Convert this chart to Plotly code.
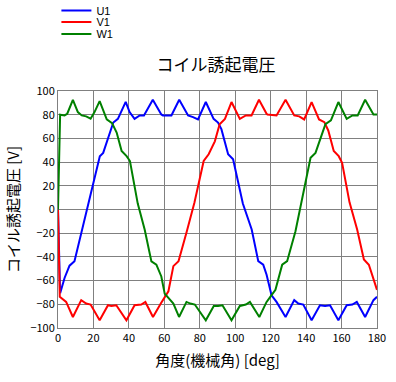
import plotly.graph_objects as go

# --- data ---
u1_x = [0, 1.2, 3.7, 6.5, 9.3, 13.1, 17.5, 20.8, 23.6, 25.5, 28.3, 31.2, 33.8, 38.2, 40.4, 43.2, 46.1, 48.5,
        53.5, 58.3, 59.2, 64, 68.4, 73.4, 76.2, 79, 83.4, 87.8, 90.3, 92.2, 96, 98.8, 104.3, 109.3, 113, 115.8,
        117.7, 120.5, 123.3, 128.4, 133.3, 135.6, 138.4, 143.1, 147.8, 150.7, 153.5, 158.2, 162.9, 166.1,
        168.6, 173.3, 178, 180]
u1_y = [0, -70.6, -57.8, -47.4, -43.6, -19.7, 6, 26.8, 45, 47.8, 60.5, 73.4, 76.5, 90.8, 82.2, 76.5, 79.4, 79.4,
        92.6, 80.2, 79.4, 79.4, 92.6, 79.4, 78, 76, 90.7, 76.5, 73.4, 67.8, 46.6, 42.4, 5, -16.9, -43.6, -46.6,
        -55, -72.5, -78, -90.7, -76.5, -79.4, -80.2, -93.5, -80.8, -81.4, -80.8, -93.5, -80.8, -80.2,
        -78, -90.7, -76.5, -73.7]

v1_x = [0, 1, 4.6, 8.4, 13.1, 15.9, 18.4, 23.5, 28.2, 30.1, 32.9, 38.6, 43.2, 47, 49.3, 53.6, 58, 60.5, 62.3,
        65.1, 68, 72.7, 77, 82.2, 85, 88.5, 91.2, 94.2, 97.9, 102.6, 106, 109.2, 113.4, 117.7, 118.2, 123.3,
        128.4, 133.3, 136.1, 138.9, 143.1, 147.3, 150.3, 152.5, 155.6, 158.4, 160.3, 164.5, 168.8, 172.6,
        175.4, 180]
v1_y = [0, -73.7, -78, -90.7, -76.5, -79.4, -80.2, -93.5, -80.8, -81.4, -80.8, -93.5, -80.8, -80.2, -78, -90.7,
        -79.4, -73, -69, -47.8, -43.6, -18.3, 6, 40.9, 46.6, 57.5, 72, 76.5, 90.7, 76.5, 79.4, 79.4, 92.6, 80.8,
        80.2, 79.4, 92.6, 79.4, 78.6, 76, 90.7, 76, 73.7, 66.7, 49.4, 45, 39.4, 6, -16.9, -42.2, -46.6, -67.8]

w1_x = [0, 1.2, 3.7, 5.2, 8.4, 11.2, 13.4, 15.9, 18.4, 20.6, 23.5, 27.5, 30.5, 33.1, 35.9, 38.7, 40.6, 45,
        48.9, 52.7, 55.5, 58.3, 60.2, 62.8, 65.1, 68.3, 72.5, 74.7, 77.2, 83.4, 87.9, 90.3, 92.8, 97.9, 102.6,
        106, 108.3, 113.6, 117.7, 119.9, 122.7, 126.5, 129.3, 134, 137.3, 142.5, 145.3, 148.1, 150.9, 154,
        158.2, 162.9, 166.1, 169.1, 173.3, 178, 180]
w1_y = [0, 80, 79.4, 80.8, 92.6, 82.2, 79.4, 78.6, 76.6, 82.2, 91.5, 76, 72.9, 64.9, 49.4, 45, 40.9, 5,
        -16.9, -43.8, -46.6, -56.5, -71, -75, -79.4, -90.7, -78, -79.4, -80.2, -93.5, -81.4, -81.4, -80.8,
        -93.5, -81.4, -80.2, -78, -90.7, -78, -73.5, -67.8, -46.6, -43.6, -18.3, 6, 43.6, 47.8, 60.5, 72,
        75.2, 90.7, 76.5, 79.4, 79.4, 92.6, 80.2, 80.2]

series_names = ["U1", "V1", "W1"]
series_colors = ["#0000FF", "#FF0000", "#008000"]

x_ticks = [0, 20, 40, 60, 80, 100, 120, 140, 160, 180]
y_ticks = [-100, -80, -60, -40, -20, 0, 20, 40, 60, 80, 100]

title_text = "コイル誘起電圧"
x_title = "角度(機械角) [deg]"
y_title = "コイル誘起電圧 [V]"

FONT = "Noto Sans CJK JP"
LEG_FONT = "Liberation Sans"
W, H = 396, 382
ML, MR, MT, MB = 58, 19, 91, 54
PH = H - MT - MB

fig = go.Figure()
data = [(u1_x, u1_y), (v1_x, v1_y), (w1_x, w1_y)]
legend_ids = ["legend", "legend2", "legend3"]
for (xs, ys), name, col, lg in zip(data, series_names, series_colors, legend_ids):
    fig.add_trace(go.Scatter(x=xs, y=ys, mode="lines", name=name,
                             line=dict(color=col, width=2), legend=lg))


def leg(py):
    return dict(font=dict(family=LEG_FONT, size=11, color="black"), bgcolor="rgba(0,0,0,0)",
                borderwidth=0, xanchor="left", yanchor="middle", x=-0.005,
                y=1 + (MT - py) / PH, itemwidth=30, tracegroupgap=0, visible=True)


fig.update_layout(
    width=W, height=H, showlegend=True,
    margin=dict(l=ML, r=MR, t=MT, b=MB, autoexpand=False),
    paper_bgcolor="white", plot_bgcolor="white",
    font=dict(family=FONT, size=11, color="black"),
    title=dict(text=title_text, x=216 / W, xanchor="center", y=1 - 65 / H, yanchor="middle",
               font=dict(family=FONT, size=17, color="black")),
    legend=leg(10.5), legend2=leg(22), legend3=leg(34),
    xaxis=dict(range=[0, 180], tickvals=x_ticks, showgrid=True, gridcolor="#808080", gridwidth=1,
               showline=True, linecolor="#808080", linewidth=1, mirror=True, zeroline=False,
               ticks="", tickfont=dict(family=FONT, size=11, color="black"),
               title=dict(text=x_title, font=dict(family=FONT, size=15, color="black"), standoff=11)),
    yaxis=dict(range=[-100, 100], tickvals=y_ticks, showgrid=True, gridcolor="#808080", gridwidth=1,
               showline=True, linecolor="#808080", linewidth=1, mirror=True, zeroline=False,
               ticks="", tickfont=dict(family=FONT, size=11, color="black"),
               title=dict(text=y_title, font=dict(family=FONT, size=15, color="black"), standoff=7)),
)

fig.write_html("out.html", post_script="document.body.style.margin='0';",
               config={"displayModeBar": False})
